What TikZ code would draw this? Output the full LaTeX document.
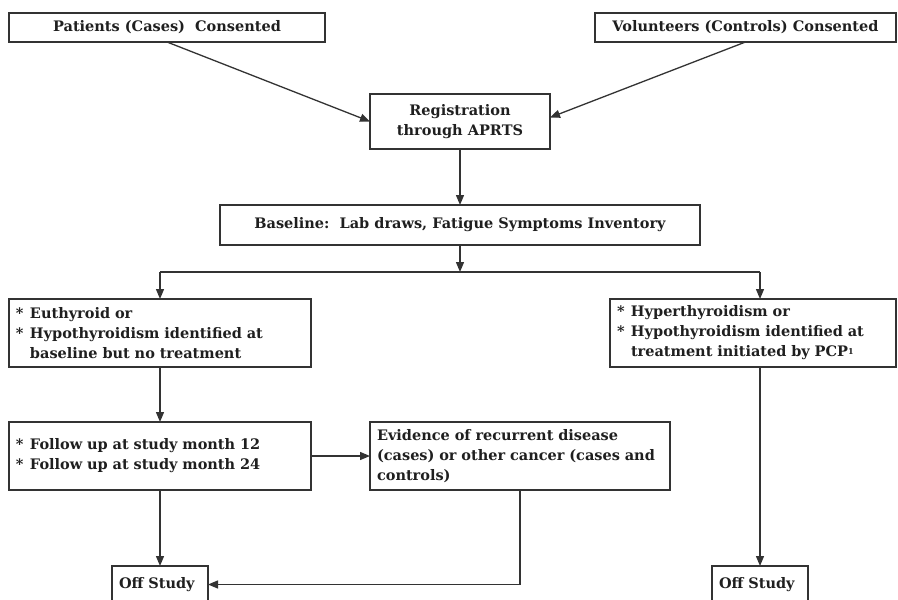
\documentclass[tikz,border=0pt]{standalone}
\usepackage{fontspec}
\setmainfont{DejaVu Serif}
\usetikzlibrary{arrows.meta}
\definecolor{linec}{gray}{0.2}
\definecolor{textc}{gray}{0.12}
\newcommand{\bul}{\makebox[14pt][l]{*}}
\newcommand{\ind}{\hspace*{14pt}}
\begin{document}
\begin{tikzpicture}[x=1pt,y=-1pt,
  box/.style={draw=linec, line width=1.3pt, inner sep=0pt, outer sep=0pt,
    anchor=north west, text=textc,
    font=\bfseries\fontsize{14.5}{20}\selectfont},
  lbox/.style={align=left, inner xsep=7pt},
  arr/.style={draw=linec, line width=1.3pt, -{Triangle[length=10pt,width=8pt]}},
  ln/.style={draw=linec, line width=1.3pt}]
\useasboundingbox (0,0) rectangle (898,600);
\begin{scope}
\clip (0,0) rectangle (898,600);
\fill[white] (0,0) rectangle (898,600);
% nodes
\node[box, minimum width=316pt, minimum height=29pt] (pat) at (9,13) {Patients (Cases)\ \ Consented};
\node[box, minimum width=301pt, minimum height=29pt] (vol) at (595,13) {Volunteers (Controls) Consented};
\node[box, minimum width=180pt, minimum height=55pt, align=center] (reg) at (370,94) {Registration\\through APRTS};
\node[box, minimum width=480pt, minimum height=40pt] (base) at (220,205) {Baseline:\ \ Lab draws, Fatigue Symptoms Inventory};
\node[box, lbox, text width=288pt, minimum height=68pt] (eu) at (9,299)
  {\bul Euthyroid or\\\bul Hypothyroidism identified at\\\ind baseline but no treatment};
\node[box, lbox, text width=272pt, minimum height=68pt] (hy) at (610,299)
  {\bul Hyperthyroidism or\\\bul Hypothyroidism identified at\\\ind treatment initiated by PCP\raisebox{2pt}{\fontsize{8}{8}\selectfont 1}};
\node[box, lbox, text width=288pt, minimum height=68pt] (fu) at (9,422)
  {\bul Follow up at study month 12\\\bul Follow up at study month 24};
\node[box, lbox, text width=286pt, minimum height=68pt] (ev) at (370,422)
  {Evidence of recurrent disease\\(cases) or other cancer (cases and\\controls)};
\node[box, lbox, text width=82pt, minimum height=37pt] (off1) at (112,566) {Off Study};
\node[box, lbox, text width=82pt, minimum height=37pt] (off2) at (712,566) {Off Study};
\coordinate (jl) at (160,272);
\coordinate (jr) at (760,272);
\coordinate (jm) at (460,272);
% connectors
\draw[arr] (pat.south) -- (reg.west);
\draw[arr] (vol.south) -- ([yshift=4pt]reg.east);
\draw[arr] (reg.south) -- (base.north);
\draw[arr] (base.south) -- (jm);
\draw[ln] (jl) -- (jr);
\draw[arr] (jl) -- (eu.north);
\draw[arr] (jr) -- (jr |- hy.north);
\draw[arr] (eu.south) -- (fu.north);
\draw[arr] (fu.east) -- (ev.west);
\draw[arr] (fu.south) -- (off1.north);
\draw[arr] (off2.north |- hy.south) -- (off2.north);
\draw[arr] (ev.south) -- (ev.south |- off1.east) -- (off1.east);
\end{scope}
\end{tikzpicture}
\end{document}
